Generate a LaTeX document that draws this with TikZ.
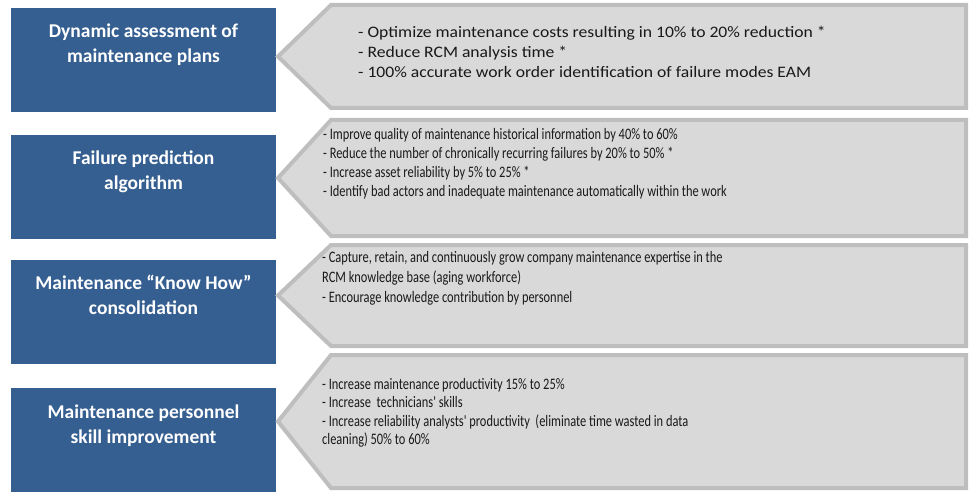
\documentclass[tikz,border=0pt]{standalone}
\usepackage{fontspec}
\setmainfont{Carlito}
\newfontfamily\widefont{Carlito}[FakeStretch=1.1]
\newfontfamily\narrowfont{Carlito}[FakeStretch=0.775]
\definecolor{boxblue}{RGB}{54,95,145}
\definecolor{chevfill}{RGB}{217,217,217}
\definecolor{chevline}{RGB}{190,190,190}
\definecolor{bodytext}{RGB}{25,25,25}
\tikzset{
  bluebox/.style={fill=boxblue, draw=none, minimum width=265pt, minimum height=104pt, inner sep=0pt},
  boxlabel/.style={text=white, font=\fontsize{19.5}{25}\selectfont\bfseries, align=center, inner sep=0pt},
  chev/.style={fill=chevfill, draw=chevline, line width=4pt, line join=miter},
  points/.style={text=bodytext, align=left, anchor=west, inner sep=0pt},
}
\begin{document}
\begin{tikzpicture}[x=1pt,y=-1pt]
\useasboundingbox (0,0) rectangle (969,492);

% left-hand category boxes
\node[bluebox] (b1) at (143.5,60) {};
\node[bluebox] (b2) at (143.5,187) {};
\node[bluebox] (b3) at (143.5,311.5) {};
\node[bluebox] (b4) at (143.5,439.5) {};
\node[boxlabel] (l1) at (143.5,44.5) {Dynamic assessment of\\maintenance plans};
\node[boxlabel] (l2) at (143.5,171.5) {Failure prediction\\algorithm};
\node[boxlabel] (l3) at (143.5,295) {Maintenance “Know How”\\consolidation};
\node[boxlabel] (l4) at (143.5,425.5) {Maintenance personnel\\skill improvement};

% benefit panels pointing at the boxes
\path[chev] (278,56.5) -- (331,5) -- (966,5) -- (966,108) -- (331,108) -- cycle;
\path[chev] (278,178) -- (331,120) -- (966,120) -- (966,236) -- (331,236) -- cycle;
\path[chev] (278,295.5) -- (331,245) -- (966,245) -- (966,346) -- (331,346) -- cycle;
\path[chev] (278,421.5) -- (331,355) -- (966,355) -- (966,488) -- (331,488) -- cycle;

\node[points, font=\widefont\fontsize{16}{20}\selectfont] (t1) at (358,51.5) {%
- Optimize maintenance costs resulting in 10\% to 20\% reduction *\\
- Reduce RCM analysis time *\\
- 100\% accurate work order identification of failure modes EAM};
\node[points, font=\narrowfont\fontsize{16}{19}\selectfont] (t2) at (323,164) {%
- Improve quality of maintenance historical information by 40\% to 60\%\\
- Reduce the number of chronically recurring failures by 20\% to 50\% *\\
- Increase asset reliability by 5\% to 25\% *\\
- Identify bad actors and inadequate maintenance automatically within the work};
\node[points, font=\narrowfont\fontsize{16}{20}\selectfont] (t3) at (322,278.5) {%
- Capture, retain, and continuously grow company maintenance expertise in the\\
RCM knowledge base (aging workforce)\\
- Encourage knowledge contribution by personnel};
\node[points, font=\narrowfont\fontsize{16}{18.5}\selectfont] (t4) at (322,413) {%
- Increase maintenance productivity 15\% to 25\%\\
- Increase\ \ technicians' skills\\
- Increase reliability analysts' productivity\ \ (eliminate time wasted in data\\
cleaning) 50\% to 60\%};
\end{tikzpicture}
\end{document}
